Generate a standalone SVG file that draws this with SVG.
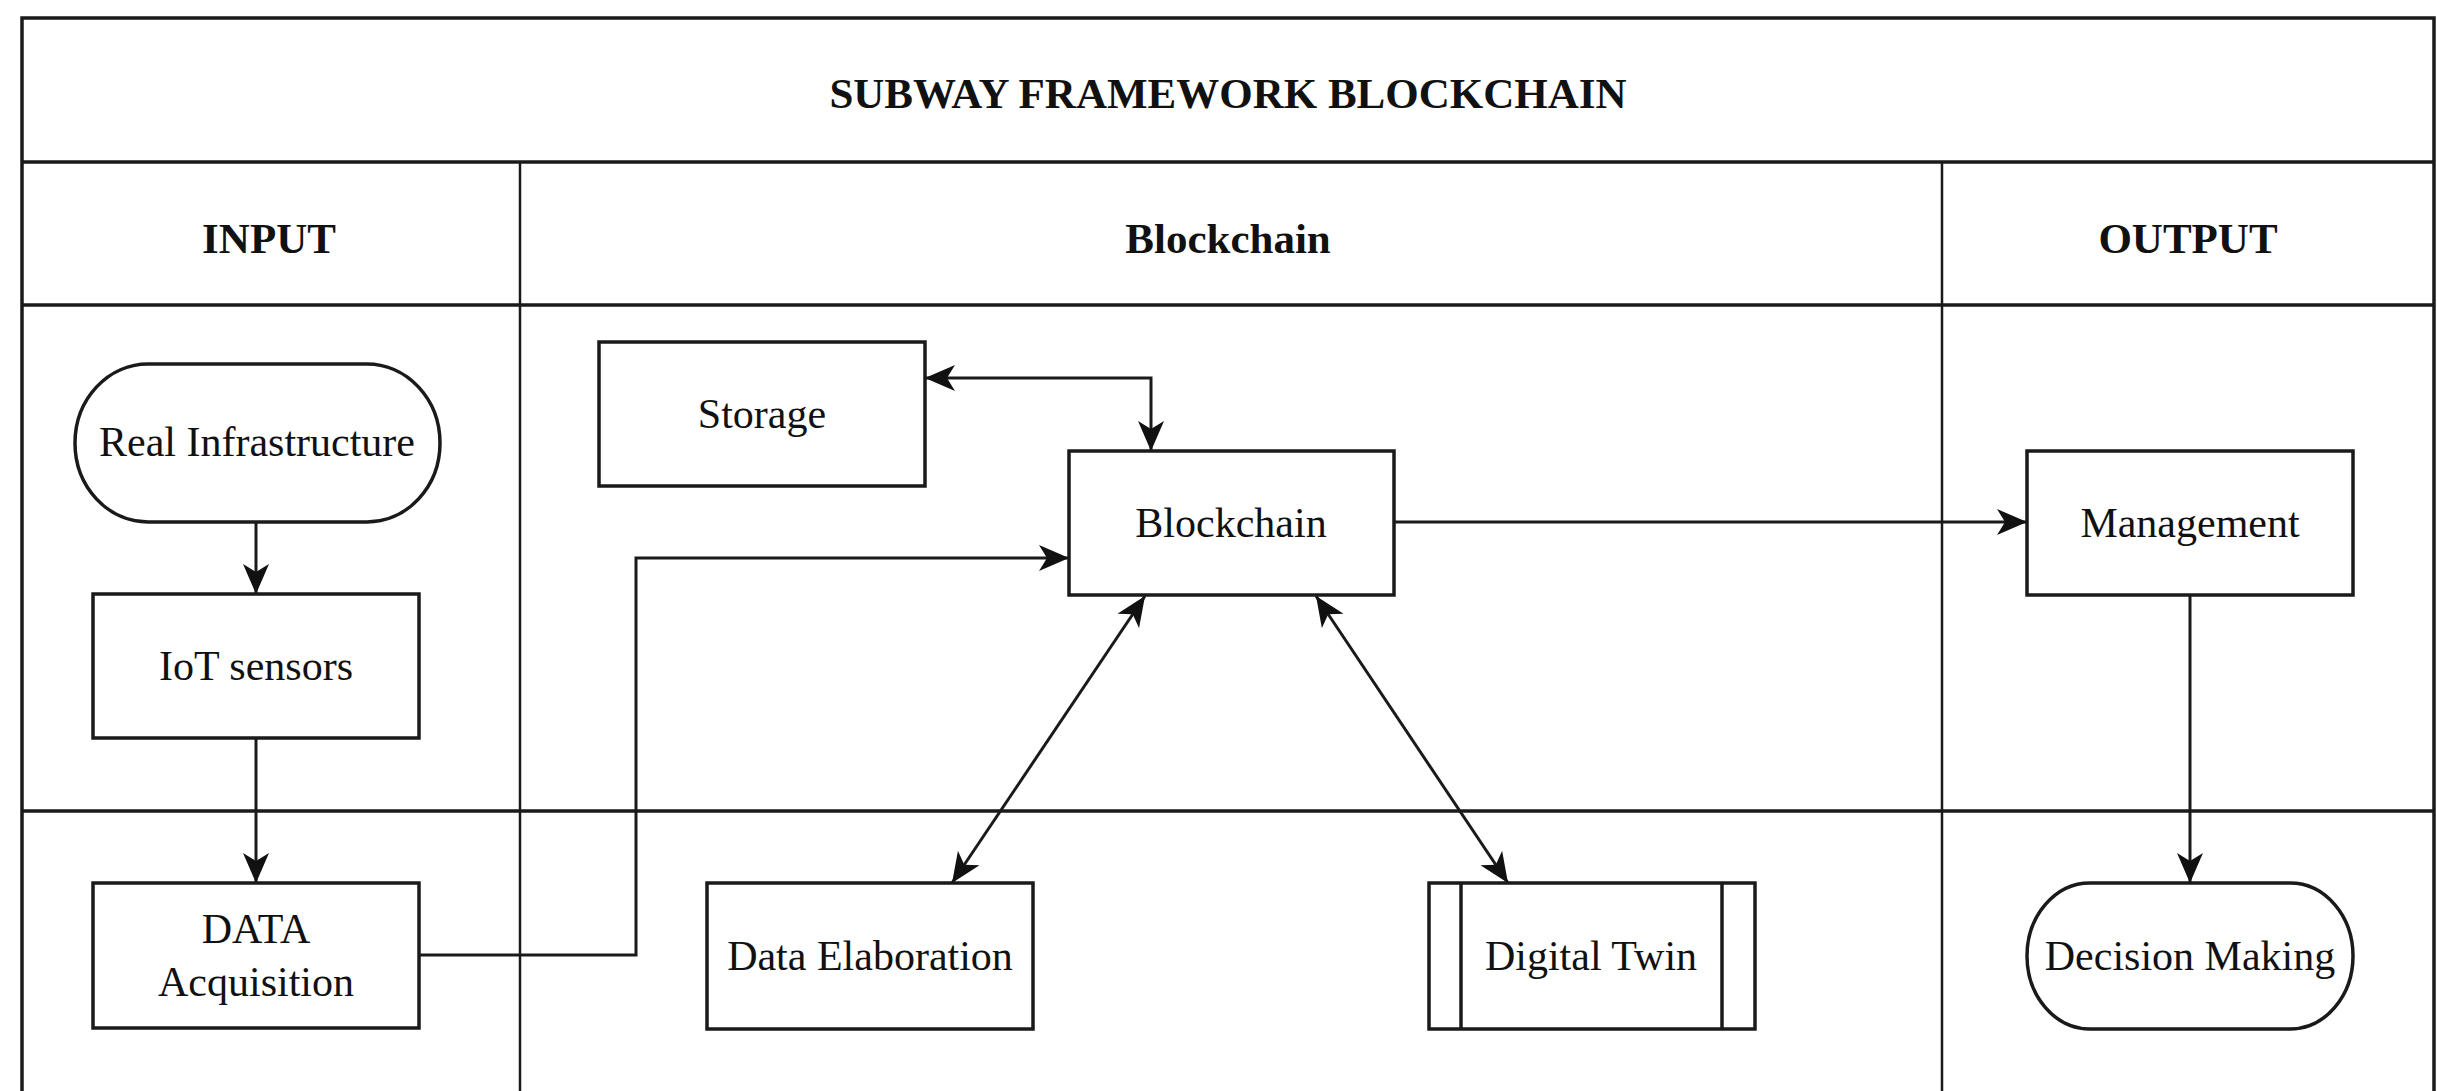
<svg xmlns="http://www.w3.org/2000/svg" width="2437" height="1091" viewBox="0 0 2437 1091">
<style>
.frame{fill:none;stroke:#1a1a1a;stroke-width:3.5}
.hline{stroke:#1a1a1a;stroke-width:3.5}
.vline{stroke:#1a1a1a;stroke-width:2.5}
.node{fill:#fff;stroke:#1a1a1a;stroke-width:3.5}
.conn{fill:none;stroke:#1a1a1a;stroke-width:3}
.hdr{font-family:"Liberation Serif","Times New Roman",serif;font-weight:bold;font-size:43px;fill:#111;text-anchor:middle}
.lbl{font-family:"Liberation Serif","Times New Roman",serif;font-size:42px;fill:#111;text-anchor:middle}
</style>
<defs>
<marker id="arr" markerUnits="userSpaceOnUse" viewBox="0 -14 32 28" markerWidth="32" markerHeight="28" refX="30" refY="0" orient="auto-start-reverse">
<path d="M0,-13 L30,0 L0,13 L8,0 Z" fill="#111"/>
</marker>
</defs>
<rect width="2437" height="1091" fill="#fff"/>
<g id="pool">
<path class="frame" d="M22,1095 L22,18 L2434,18 L2434,1095"/>
<line class="hline" x1="22" y1="162" x2="2434" y2="162"/>
<line class="hline" x1="22" y1="305" x2="2434" y2="305"/>
<line class="hline" x1="22" y1="811" x2="2434" y2="811"/>
<line class="vline" x1="520" y1="162" x2="520" y2="1095"/>
<line class="vline" x1="1942" y1="162" x2="1942" y2="1095"/>
<text class="hdr" x="1228" y="108">SUBWAY FRAMEWORK BLOCKCHAIN</text>
<text class="hdr" x="269" y="253">INPUT</text>
<text class="hdr" x="1228" y="253">Blockchain</text>
<text class="hdr" x="2188" y="253">OUTPUT</text>
</g>
<g id="connectors">
<path class="conn" d="M256,522 L256,594" marker-end="url(#arr)"/>
<path class="conn" d="M256,738 L256,883" marker-end="url(#arr)"/>
<path class="conn" d="M419,955 L636,955 L636,558 L1069,558" marker-end="url(#arr)"/>
<path class="conn" d="M925,378 L1151,378 L1151,451" marker-start="url(#arr)" marker-end="url(#arr)"/>
<path class="conn" d="M1394,522 L2027,522" marker-end="url(#arr)"/>
<path class="conn" d="M2190,595 L2190,883" marker-end="url(#arr)"/>
<path class="conn" d="M1145,596 L952,883" marker-start="url(#arr)" marker-end="url(#arr)"/>
<path class="conn" d="M1316,596 L1508,883" marker-start="url(#arr)" marker-end="url(#arr)"/>
</g>
<g id="real-infrastructure">
<rect class="node" x="75" y="364" width="365" height="158" rx="73" ry="79"/>
<text class="lbl" x="257" y="456">Real Infrastructure</text>
</g>
<g id="iot-sensors">
<rect class="node" x="93" y="594" width="326" height="144"/>
<text class="lbl" x="256" y="680">IoT sensors</text>
</g>
<g id="data-acquisition">
<rect class="node" x="93" y="883" width="326" height="145"/>
<text class="lbl" x="256" y="943">DATA</text>
<text class="lbl" x="256" y="996">Acquisition</text>
</g>
<g id="storage">
<rect class="node" x="599" y="342" width="326" height="144"/>
<text class="lbl" x="762" y="428">Storage</text>
</g>
<g id="blockchain">
<rect class="node" x="1069" y="451" width="325" height="144"/>
<text class="lbl" x="1231" y="537">Blockchain</text>
</g>
<g id="management">
<rect class="node" x="2027" y="451" width="326" height="144"/>
<text class="lbl" x="2190" y="537">Management</text>
</g>
<g id="data-elaboration">
<rect class="node" x="707" y="883" width="326" height="146"/>
<text class="lbl" x="870" y="970">Data Elaboration</text>
</g>
<g id="digital-twin">
<rect class="node" x="1429" y="883" width="326" height="146"/>
<line class="node" x1="1461" y1="883" x2="1461" y2="1029"/>
<line class="node" x1="1722" y1="883" x2="1722" y2="1029"/>
<text class="lbl" x="1591" y="970">Digital Twin</text>
</g>
<g id="decision-making">
<rect class="node" x="2027" y="883" width="326" height="146" rx="63" ry="73"/>
<text class="lbl" x="2190" y="970">Decision Making</text>
</g>
</svg>
